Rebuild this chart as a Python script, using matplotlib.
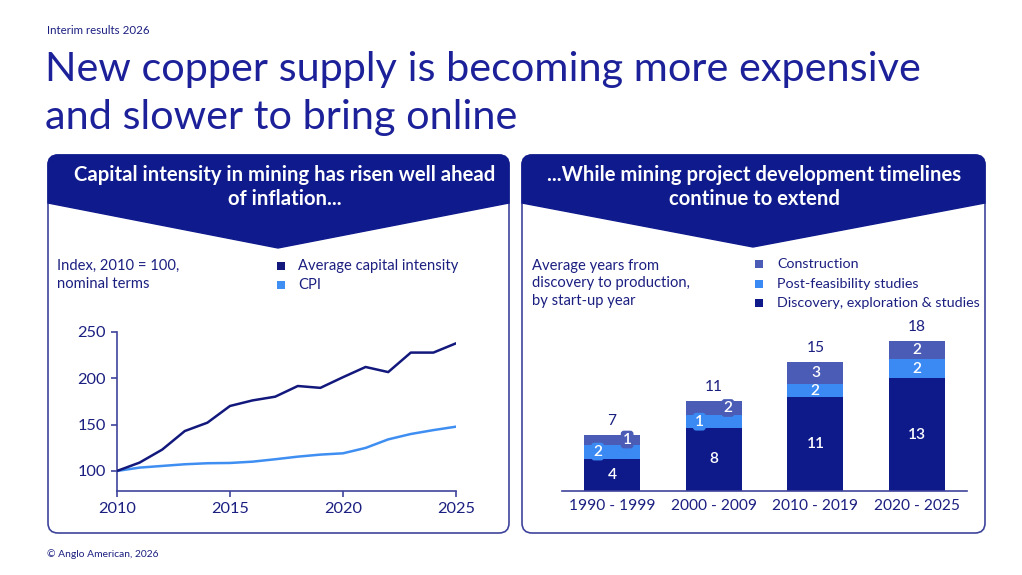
import matplotlib
matplotlib.use("Agg")
import matplotlib.pyplot as plt
from matplotlib.path import Path
from matplotlib.patches import PathPatch, FancyBboxPatch, Rectangle

plt.rcParams['font.family'] = ['Lato', 'DejaVu Sans']

# ---------------- data ----------------
years = list(range(2010, 2026))
capital_intensity = [100, 109, 123, 143, 152, 170, 176, 180, 191.5, 189.5, 201, 212, 206.5, 227.5, 227.5, 237.5]
cpi = [100, 103.6, 105.4, 107.2, 108.3, 108.6, 110, 112.6, 115.4, 117.6, 119, 124.8, 134, 139.8, 144, 147.7]

periods = ["1990 - 1999", "2000 - 2009", "2010 - 2019", "2020 - 2025"]
discovery = [3.9, 7.6, 11.3, 13.6]
post_feasibility = [1.7, 1.5, 1.6, 2.3]
construction = [1.2, 1.8, 2.6, 2.2]
discovery_labels = ["4", "8", "11", "13"]
post_labels = ["2", "1", "2", "2"]
construction_labels = ["1", "2", "3", "2"]
total_labels = ["7", "11", "15", "18"]

# ---------------- style ----------------
W, H = 1022, 575
NAVY = '#0f1a8c'
TEXT = '#1b1f80'
TITLE = '#1c2199'
C_DISC = '#0e1a8a'
C_POST = '#3b8af3'
C_CONS = '#4a5cb6'
C_LINE1 = '#12187c'
C_LINE2 = '#3f8ef2'
BORDER = '#3e449c'
FS = 10.6

fig = plt.figure(figsize=(W / 100, H / 100), dpi=100)
fig.patch.set_facecolor('white')

bg = fig.add_axes([0, 0, 1, 1])
bg.set_xlim(0, W)
bg.set_ylim(H, 0)
bg.axis('off')


def fax(x0, y0, x1, y1):
    """figure-fraction rect from pixel box (top-left origin)"""
    return [x0 / W, (H - y1) / H, (x1 - x0) / W, (y1 - y0) / H]


# header texts
bg.text(47, 31, "Interim results 2026", fontsize=8.3, color=TEXT, va='center', ha='left')
bg.text(45, 70, "New copper supply is becoming more expensive", fontsize=29.8, color=TITLE,
        va='center', ha='left')
bg.text(45, 118, "and slower to bring online", fontsize=29.8, color=TITLE, va='center', ha='left')
bg.text(47, 554, "\u00a9 Anglo American, 2026", fontsize=7.4, color=TEXT, va='center', ha='left')


def panel(x0, x1, y0, y1, yside, ypoint, xpoint):
    box = FancyBboxPatch((x0, y0), x1 - x0, y1 - y0,
                         boxstyle="round,pad=0,rounding_size=10",
                         fc='white', ec=BORDER, lw=1.2, zorder=1)
    bg.add_patch(box)
    r = 10
    verts = [(x0, y0 + r), (x0, y0), (x0 + r, y0), (x1 - r, y0), (x1, y0), (x1, y0 + r),
             (x1, yside), (xpoint, ypoint), (x0, yside), (x0, y0 + r)]
    codes = [Path.MOVETO, Path.CURVE3, Path.CURVE3, Path.LINETO, Path.CURVE3, Path.CURVE3,
             Path.LINETO, Path.LINETO, Path.LINETO, Path.CLOSEPOLY]
    bg.add_patch(PathPatch(Path(verts, codes), fc=NAVY, ec=NAVY, lw=1, zorder=2))


panel(48, 509, 155, 533, 203, 248, 278)
panel(522, 985, 155, 533, 203, 247, 753)

HFS = 14.6
bg.text(285, 175, "Capital intensity in mining has risen well ahead", fontsize=HFS, color='white',
        fontweight='bold', ha='center', va='center', zorder=3)
bg.text(285, 199, "of inflation...", fontsize=HFS, color='white',
        fontweight='bold', ha='center', va='center', zorder=3)
bg.text(754, 175, "...While mining project development timelines", fontsize=HFS, color='white',
        fontweight='bold', ha='center', va='center', zorder=3)
bg.text(754, 199, "continue to extend", fontsize=HFS, color='white',
        fontweight='bold', ha='center', va='center', zorder=3)

# left subtitle + legend
bg.text(57, 266, "Index, 2010 = 100,", fontsize=FS, color=TEXT, va='center', zorder=3)
bg.text(57, 284, "nominal terms", fontsize=FS, color=TEXT, va='center', zorder=3)
for yy, col, lab in [(266, C_LINE1, "Average capital intensity"), (285, C_LINE2, "CPI")]:
    bg.add_patch(Rectangle((277, yy - 4), 8, 8, fc=col, ec='none', zorder=3))
    bg.text(298, yy, lab, fontsize=FS, color=TEXT, va='center', zorder=3)

# right subtitle + legend
for i, s in enumerate(["Average years from", "discovery to production,", "by start-up year"]):
    bg.text(532, 266 + i * 17.5, s, fontsize=FS, color=TEXT, va='center', zorder=3)
for yy, col, lab in [(264, C_CONS, "Construction"), (284, C_POST, "Post-feasibility studies"),
                     (303, C_DISC, "Discovery, exploration & studies")]:
    bg.add_patch(Rectangle((755, yy - 4), 8, 8, fc=col, ec='none', zorder=3))
    bg.text(777, yy, lab, fontsize=10.3, color=TEXT, va='center', zorder=3)

# ---------------- left line chart ----------------
ax1 = fig.add_axes(fax(117, 331.7, 456, 491))
ax1.plot(years, capital_intensity, color=C_LINE1, lw=1.8, solid_capstyle='round', zorder=3)
ax1.plot(years, cpi, color=C_LINE2, lw=1.8, solid_capstyle='round', zorder=2)
ax1.set_xlim(2010, 2025)
ax1.set_ylim(78.4, 250)
ax1.set_xticks([2010, 2015, 2020, 2025])
ax1.set_yticks([100, 150, 200, 250])
for s in ['top', 'right']:
    ax1.spines[s].set_visible(False)
for s in ['left', 'bottom']:
    ax1.spines[s].set_color(BORDER)
    ax1.spines[s].set_linewidth(1.2)
ax1.tick_params(axis='both', colors=BORDER, length=4, width=1.2, labelsize=11.8,
                labelcolor=TEXT, pad=4)
ax1.patch.set_alpha(0)

# ---------------- right stacked bar chart ----------------
ax2 = fig.add_axes(fax(562, 325, 967, 491))
x = list(range(len(periods)))
bw = 0.55
ax2.bar(x, discovery, bw, color=C_DISC, zorder=2)
bottom2 = discovery
ax2.bar(x, post_feasibility, bw, bottom=bottom2, color=C_POST, zorder=2)
bottom3 = [a + b for a, b in zip(discovery, post_feasibility)]
ax2.bar(x, construction, bw, bottom=bottom3, color=C_CONS, zorder=2)
totals = [a + b for a, b in zip(bottom3, construction)]
ax2.set_xlim(-0.49, 3.49)
ax2.set_ylim(0, 20)
ax2.set_xticks(x)
ax2.set_xticklabels(periods)
ax2.set_yticks([])
for s in ['top', 'right', 'left']:
    ax2.spines[s].set_visible(False)
ax2.spines['bottom'].set_color(BORDER)
ax2.spines['bottom'].set_linewidth(1.2)
ax2.tick_params(axis='x', length=0, labelsize=11.2, labelcolor=TEXT, pad=6)
ax2.patch.set_alpha(0)

lab_kw = dict(color='white', fontsize=11.2, fontweight='semibold', ha='center', va='center', zorder=4)
post_dx = [-0.14, -0.14, 0, 0]
cons_dx = [0.15, 0.14, 0, 0]
for i in x:
    ax2.text(i, discovery[i] / 2, discovery_labels[i], **lab_kw)
    yp = discovery[i] + post_feasibility[i] / 2
    yc = bottom3[i] + construction[i] / 2
    if post_dx[i] != 0:
        ax2.text(i + post_dx[i], yp, post_labels[i],
                 bbox=dict(boxstyle='round,pad=0.12,rounding_size=0.2', fc=C_POST, ec='none'), **lab_kw)
        ax2.text(i + cons_dx[i], yc, construction_labels[i],
                 bbox=dict(boxstyle='round,pad=0.12,rounding_size=0.2', fc=C_CONS, ec='none'), **lab_kw)
    else:
        ax2.text(i, yp, post_labels[i], **lab_kw)
        ax2.text(i, yc, construction_labels[i], **lab_kw)
    ax2.annotate(total_labels[i], (i, totals[i]), xytext=(0, 5), textcoords='offset points',
                 ha='center', va='bottom', fontsize=11.2, color=TEXT)

fig.savefig('out.png', dpi=100, facecolor='white')
